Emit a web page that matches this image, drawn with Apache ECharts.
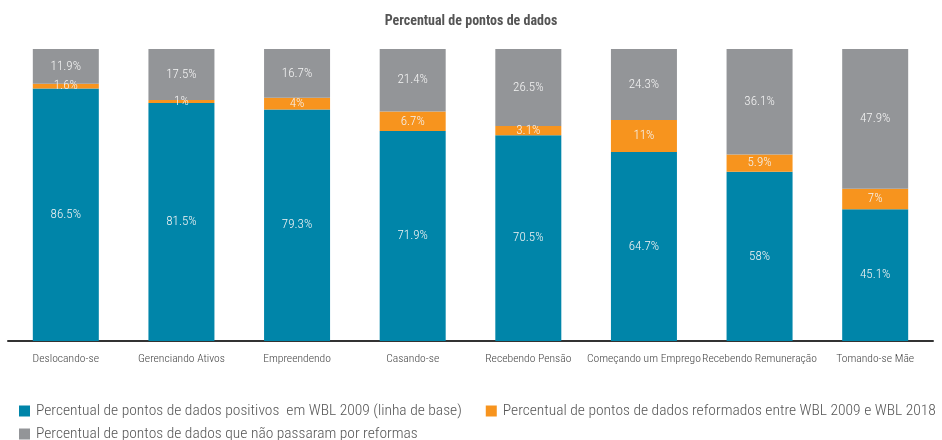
<!DOCTYPE html>
<html>
<head>
<meta charset="utf-8">
<script src="https://cdn.jsdelivr.net/npm/echarts@6/dist/echarts.min.js"></script>
<style>
    html, body { margin: 0; padding: 0; background: #fff; }
    #chart { width: 942px; height: 440px; }
</style>
</head>
<body>
<div id="chart"></div>
<script>
let categories = ['Deslocando-se', 'Gerenciando Ativos', 'Empreendendo', 'Casando-se',
    'Recebendo Pensão', 'Começando um Emprego', 'Recebendo Remuneração', 'Tomando-se Mãe'];
let positivos = [86.5, 81.5, 79.3, 71.9, 70.5, 64.7, 58, 45.1];      // linha de base
let reformados = [1.6, 1, 4, 6.7, 3.1, 11, 5.9, 7];
let semReforma = [11.9, 17.5, 16.7, 21.4, 26.5, 24.3, 36.1, 47.9];
let seriesNames = [
    'Percentual de pontos de dados positivos  em WBL 2009 (linha de base)',
    'Percentual de pontos de dados reformados entre WBL 2009 e WBL 2018',
    'Percentual de pontos de dados que não passaram por reformas'
];
let colors = ['#0085a9', '#f7941e', '#939598'];

let font = '"Roboto Condensed", "Open Sans Condensed", sans-serif';

function makeSeries(name, data, color) {
    return {
        name: name,
        type: 'bar',
        stack: 'total',
        barWidth: 66,
        itemStyle: { color: color },
        label: {
            show: true,
            position: 'inside',
            color: '#f4f4f4',
            fontFamily: font,
            fontWeight: 300,
            fontSize: 13,
            formatter: p => p.value + '%'
        },
        data: data
    };
}

// legend style shared by the two rows
let legendBase = {
    left: 14,
    itemGap: 24,
    itemWidth: 11,
    itemHeight: 11,
    icon: 'rect',
    textStyle: { fontFamily: font, fontWeight: 300, fontSize: 15.5, color: '#555', padding: [0, 0, 0, 1] }
};

let myChart = echarts.init(document.getElementById('chart'));
let option = {
    animation: false,
    textStyle: { fontFamily: font },
    title: {
        text: 'Percentual de pontos de dados',
        left: 'center',
        top: 9,
        textStyle: { fontFamily: font, fontSize: 14, fontWeight: 'bold', color: '#555' }
    },
    legend: [
        Object.assign({}, legendBase, { top: 398, data: seriesNames.slice(0, 2) }),
        Object.assign({}, legendBase, { top: 421, data: seriesNames.slice(2) })
    ],
    grid: { left: 8, right: 9, top: 49, bottom: 99, containLabel: false },
    xAxis: {
        type: 'category',
        data: categories,
        axisLine: { lineStyle: { color: '#333', width: 2 } },
        axisTick: { show: false },
        axisLabel: { fontFamily: font, fontWeight: 300, fontSize: 11.6, color: '#444', margin: 12, interval: 0 }
    },
    yAxis: {
        type: 'value',
        min: 0,
        max: 100,
        show: false,
        splitLine: { show: false }
    },
    series: [
        makeSeries(seriesNames[0], positivos, colors[0]),
        makeSeries(seriesNames[1], reformados, colors[1]),
        makeSeries(seriesNames[2], semReforma, colors[2])
    ]
};
myChart.setOption(option, true);
</script>
</body>
</html>
